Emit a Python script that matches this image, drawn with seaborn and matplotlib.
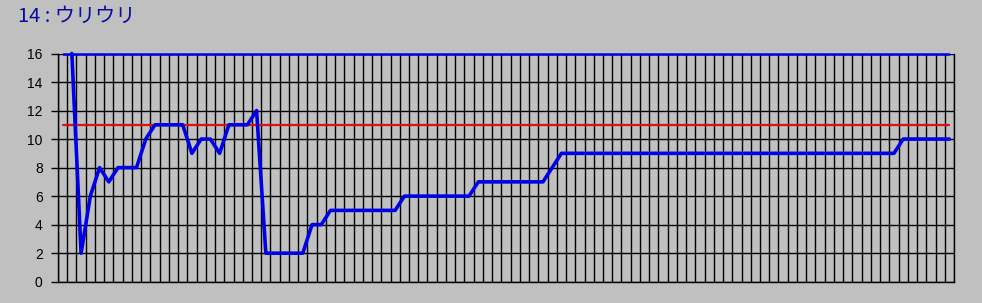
import numpy as np
import pandas as pd
import matplotlib
matplotlib.use("Agg")
import matplotlib.pyplot as plt
import seaborn as sns

# ---- data ----
rank = [np.nan, 16, 2, 6, 8, 7, 8, 8, 8, 10,
        11, 11, 11, 11, 9, 10, 10, 9, 11, 11,
        11, 12, 2, 2, 2, 2, 2, 4, 4, 5,
        5, 5, 5, 5, 5, 5, 5, 6, 6, 6,
        6, 6, 6, 6, 6, 7, 7, 7, 7, 7,
        7, 7, 7, 8, 9, 9, 9, 9, 9, 9,
        9, 9, 9, 9, 9, 9, 9, 9, 9, 9,
        9, 9, 9, 9, 9, 9, 9, 9, 9, 9,
        9, 9, 9, 9, 9, 9, 9, 9, 9, 9,
        9, 10, 10, 10, 10, 10, 10]
field_size = [16] * len(rank)
final_rank = [11] * len(rank)
y_ticks = [0, 2, 4, 6, 8, 10, 12, 14, 16]
title = "14 : ウリウリ"

n = len(rank)
steps = list(range(n))
df = pd.DataFrame({"step": steps, "rank": rank,
                   "field": field_size, "final": final_rank})

sns.set_theme(style="white")
plt.rcParams['font.family'] = ['Noto Sans CJK JP', 'DejaVu Sans']

bg = "#C0C0C0"
fig = plt.figure(figsize=(9.82, 3.03), dpi=100, facecolor=bg)
ax = fig.add_axes([58 / 982, 21.3 / 303, 896 / 982, 228.2 / 303])
ax.set_facecolor(bg)

# grid
ax.set_xticks(np.arange(-0.5, n, 1.0))
ax.set_xticklabels([])
ax.tick_params(axis="x", length=0)
ax.set_yticks(y_ticks)
ax.set_yticklabels([str(v) for v in y_ticks], fontsize=10,
                   family=['Liberation Sans', 'DejaVu Sans'])
ax.tick_params(axis="y", length=5, width=1, color="black", pad=6,
               labelcolor="black", direction="out", left=True)
ax.grid(True, color="black", linewidth=1, zorder=0)
ax.set_axisbelow(True)

sns.lineplot(data=df, x="step", y="final", ax=ax, color="#E01010",
             linewidth=1.6, zorder=3, legend=False)
sns.lineplot(data=df, x="step", y="field", ax=ax, color="#0000E8",
             linewidth=1.8, zorder=4, legend=False, clip_on=False)
sns.lineplot(data=df.dropna(), x="step", y="rank", ax=ax, color="#0000E8",
             linewidth=2.6, zorder=5, legend=False, clip_on=False)

ax.set_xlim(-0.5, n - 0.5)
ax.set_ylim(0, 16)
ax.set_xlabel("")
ax.set_ylabel("")
for side in ["top", "right", "left", "bottom"]:
    ax.spines[side].set_visible(True)
    ax.spines[side].set_color("black")
    ax.spines[side].set_linewidth(1)
ax.spines["top"].set_visible(False)

fig.text(18 / 982, 1 - 6 / 303, title, color="#0A0AA0", fontsize=14.5,
         ha="left", va="top")

fig.savefig("out.png", dpi=100, facecolor=bg)
